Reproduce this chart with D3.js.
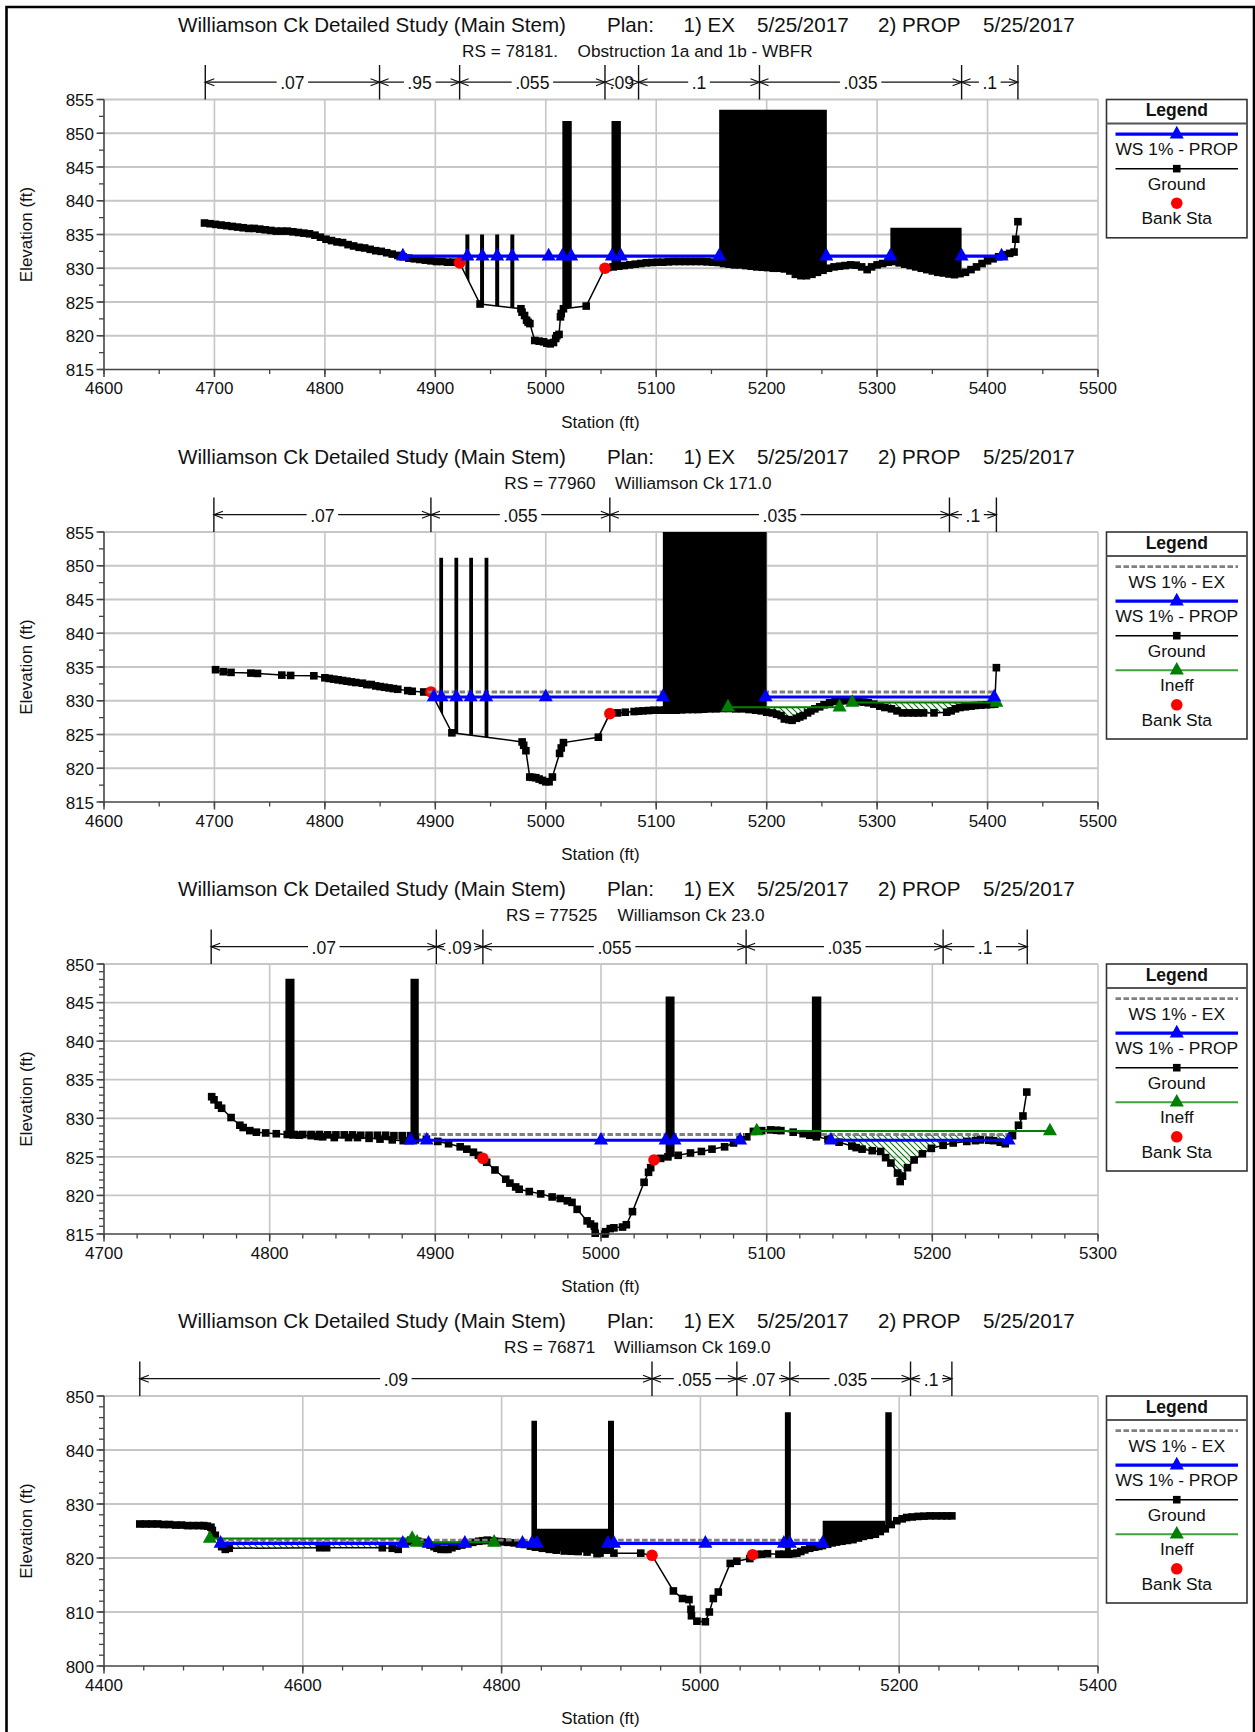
<!DOCTYPE html>
<html><head><meta charset="utf-8">
<script src="https://cdn.jsdelivr.net/npm/d3@7/dist/d3.min.js"></script>
<style>html,body{margin:0;padding:0;background:#fff}svg{display:block}text{font-family:"Liberation Sans",Arial,sans-serif;fill:#111}</style>
</head><body><div id="chart"></div>
<script>
// ---------- shared text ----------
const titleParts = [["Williamson Ck Detailed Study (Main Stem)",178],["Plan:",607],["1) EX",683.5],["5/25/2017",757],["2) PROP",878],["5/25/2017",983]];
const rsLabels = [["RS = 78181.",462,"Obstruction 1a and 1b - WBFR",577.6],["RS = 77960",504.3,"Williamson Ck 171.0",615],["RS = 77525",506,"Williamson Ck 23.0",617.5],["RS = 76871",504,"Williamson Ck 169.0",614]];

// ---------- axes ----------
const xDomains = [[4600,5500],[4600,5500],[4700,5300],[4400,5400]];
const yDomains = [[815,855],[815,855],[815,850],[800,850]];
const xMajor = [100,100,100,200];
const xMinor = [50,50,20,40];
const yMajor = [5,5,5,10];
const yMinor = [2.5,2.5,1,2];

// ---------- Manning n ----------
const nBreaks = [
 [4691.7,4849.5,4922,5053.6,5084,5193.5,5376.5,5427.5],
 [4699.5,4896,5058,5365.5,5408],
 [4764.7,4900.6,4928.7,5087.6,5206.5,5257.3],
 [4436,4951.3,5036.7,5090,5211.4,5253]];
const nValues = [
 [".07",".95",".055",".09",".1",".035",".1"],
 [".07",".055",".035",".1"],
 [".07",".09",".055",".035",".1"],
 [".09",".055",".07",".035",".1"]];

// ---------- ground [station, elevation] ----------
const ground1 = [[4691,836.7],[4696,836.6],[4701,836.5],[4706,836.4],[4711,836.3],[4716,836.2],[4721,836.1],[4726,836],[4731,835.9],[4736,835.9],[4741,835.8],[4746,835.7],[4751,835.6],[4756,835.5],[4761,835.5],[4766,835.5],[4771,835.4],[4776,835.3],[4781,835.2],[4786,835.1],[4791,834.9],[4796,834.6],[4801,834.3],[4806,834.1],[4811,833.9],[4816,833.8],[4821,833.5],[4826,833.3],[4831,833.1],[4836,833],[4841,832.8],[4846,832.6],[4851,832.5],[4856,832.3],[4861,832.1],[4866,831.9],[4871,831.7],[4876,831.5],[4881,831.4],[4886,831.3],[4891,831.2],[4896,831.1],[4901,831],[4906,831],[4911,830.9],[4916,830.9],[4922,830.8],[4940.5,824.7],[4977.5,824],[4978.5,823.5],[4980.8,823],[4982.6,822.3],[4984,822],[4985.6,821.8],[4990,819.3],[4994,819.2],[4998,819.1],[5001,818.9],[5004,818.8],[5007,819],[5009,819.6],[5010,820],[5012,820.2],[5013.3,822.8],[5014,823.3],[5016,824],[5036.6,824.4],[5053.6,830],[5056,830.1],[5061,830.2],[5066,830.3],[5071,830.4],[5076,830.5],[5081,830.6],[5086,830.7],[5091,830.8],[5096,830.85],[5101,830.9],[5106,830.9],[5111,830.95],[5116,831],[5121,831],[5126,831],[5131,831],[5136,831],[5141,831],[5146,830.95],[5151,830.9],[5156,830.85],[5161,830.7],[5166,830.6],[5171,830.5],[5176,830.5],[5181,830.4],[5186,830.3],[5191,830.2],[5196,830.15],[5201,830.1],[5206,830],[5211,830],[5216,829.9],[5221,829.6],[5226,829.1],[5231,828.9],[5236,828.9],[5241,829.1],[5246,829.4],[5251,829.7],[5256,830],[5261,830.2],[5266,830.3],[5271,830.4],[5276,830.5],[5281,830.45],[5286,830.2],[5291,829.8],[5295,830.2],[5300,830.5],[5305,830.7],[5310,830.9],[5315,831],[5320,830.8],[5325,830.6],[5330,830.4],[5335,830.2],[5340,830],[5345,829.8],[5350,829.6],[5355,829.4],[5360,829.3],[5365,829.15],[5370,829.05],[5375,829.2],[5380,829.4],[5385,829.8],[5390,830.2],[5395,830.7],[5400,831.1],[5405,831.4],[5410,831.7],[5415,832],[5420,832.2],[5424,832.4],[5425.5,834.3],[5427.5,836.9]];
const ground2 = [[4701,834.6],[4708,834.3],[4715,834.2],[4733,834.1],[4739,834.05],[4761,833.8],[4769,833.75],[4790,833.7],[4800,833.4],[4804,833.3],[4808,833.2],[4812,833.1],[4816,833],[4820,832.9],[4824,832.8],[4828,832.7],[4834,832.6],[4838,832.4],[4842,832.4],[4846,832.2],[4850,832.1],[4854,832],[4858,831.9],[4862,831.8],[4866,831.7],[4875,831.5],[4879,831.4],[4889.5,831.3],[4896,831.3],[4915,825.25],[4978.6,823.9],[4980,823.4],[4982,822.6],[4985.5,818.7],[4988,818.65],[4991,818.6],[4994,818.4],[4997,818.2],[5000,818],[5003,818],[5006,818.7],[5012.5,822.2],[5014,823],[5016,823.8],[5047.6,824.6],[5058,828.1],[5065,828.2],[5072,828.3],[5080,828.4],[5084,828.45],[5088,828.5],[5093,828.55],[5098,828.6],[5103,828.6],[5108,828.6],[5113,828.6],[5118,828.6],[5123,828.65],[5128,828.7],[5133,828.7],[5138,828.7],[5143,828.75],[5148,828.8],[5154,828.8],[5160,828.85],[5166,828.85],[5172,828.8],[5178,828.8],[5184,828.7],[5190,828.6],[5195,828.5],[5200,828.3],[5205,828.2],[5209,828],[5213,827.8],[5216,827.3],[5220,827.2],[5223,827.1],[5227,827.4],[5230,827.6],[5233,827.8],[5237,828.2],[5240,828.5],[5243.6,828.8],[5248,829.1],[5252,829.4],[5257,829.7],[5262,829.9],[5267,830],[5272,830],[5278,829.9],[5283,829.85],[5288,829.8],[5292,829.7],[5297,829.5],[5302.4,829.2],[5307,829],[5313,828.8],[5318,828.5],[5323,828.2],[5328,828.2],[5333,828.2],[5337,828.2],[5342,828.2],[5351.5,828.2],[5363,828.3],[5367,828.5],[5371,828.8],[5375,829],[5380,829.1],[5385,829.2],[5389,829.3],[5394,829.35],[5399,829.4],[5403,829.45],[5406.5,829.5],[5408,834.9]];
const ground3 = [[4765,832.8],[4766.4,832.4],[4769,831.7],[4771,831.3],[4776.7,830.1],[4782,829.1],[4784,828.8],[4788,828.4],[4792,828.2],[4797.6,828.1],[4804,828],[4810.6,827.9],[4814,827.85],[4818,827.8],[4825,827.75],[4829,827.65],[4832,827.6],[4839,827.5],[4847.6,827.5],[4853,827.5],[4860,827.4],[4866.6,827.3],[4874,827.2],[4880.6,827.1],[4885,827.1],[4888,827.2],[4894.6,827.3],[4901.5,827],[4908,826.7],[4915,826.3],[4919,826],[4923,825.6],[4926,825.2],[4928.7,824.8],[4931,824.3],[4936,823.3],[4942.5,822.1],[4945,821.6],[4948.5,821.1],[4950.6,820.8],[4956.7,820.5],[4963.6,820.2],[4970.5,819.8],[4975.4,819.6],[4979.7,819.3],[4982.5,819.1],[4985.6,818.2],[4991.6,816.7],[4993.7,816.3],[4996,816],[4996.5,815.1],[5002.4,815],[5002.8,815.3],[5005.6,815.7],[5007.8,815.8],[5013,815.9],[5015.3,816.2],[5019,817.9],[5026,821.7],[5028.7,823],[5030,823.6],[5032,824.6],[5036,824.8],[5040.4,825],[5046.6,825.2],[5054,825.5],[5060.6,825.7],[5067,826],[5074.6,826.3],[5080,826.8],[5084,827.2],[5088,827.6],[5092,828.3],[5097,828.4],[5102.4,828.5],[5106,828.45],[5108.6,828.4],[5116,828.2],[5122,828],[5126,827.8],[5130,827.6],[5137,827.3],[5143.7,826.9],[5151.4,826.4],[5154,826.2],[5157.6,826],[5163.7,825.8],[5168.8,825.7],[5171.8,824.9],[5175,824.2],[5179,822.9],[5180.6,821.8],[5182,822.5],[5185,823.6],[5189,824.6],[5194,825.4],[5199.4,826.1],[5206.5,826.5],[5212.6,826.8],[5220.8,827],[5226,827.1],[5229,827.2],[5234,827.15],[5237,827.1],[5241,826.9],[5244,826.7],[5248.4,827.75],[5252,829.1],[5254.7,830.3],[5257,833.4]];
// upper edge of the left overbank band in the third section
const ground3Upper = [[4815,827.9],[4820,827.9],[4825,827.9],[4830,827.9],[4835,827.85],[4840,827.85],[4845,827.85],[4850,827.85],[4855,827.8],[4860,827.8],[4865,827.8],[4870,827.8],[4875,827.75],[4880,827.75],[4885,827.75]];
const ground4 = [[4436,826.3],[4442,826.3],[4448,826.3],[4454,826.3],[4460,826.2],[4466,826.2],[4472,826.1],[4478,826.1],[4484,826],[4490,826],[4496,826],[4500.4,826],[4504,825.9],[4507.6,825.7],[4509,825.1],[4512,824.2],[4518.4,822.1],[4522,821.6],[4526,821.8],[4617,821.9],[4624,821.9],[4680,821.9],[4690,821.8],[4696,821.6],[4701,822.7],[4705,823],[4708.5,823.3],[4712,823.2],[4715.7,823.1],[4720,822.9],[4724.6,822.7],[4728,822.4],[4732,822.1],[4735,821.8],[4739,821.6],[4743,821.6],[4746,821.6],[4750,821.9],[4755,822.2],[4760,822.4],[4766,822.7],[4771,822.9],[4777,823.1],[4781,823.2],[4785.6,823.3],[4789,823.2],[4793,823.1],[4797,823.05],[4800,823],[4806,822.9],[4812.6,822.8],[4818,822.65],[4823,822.5],[4829,822.2],[4834,822],[4841,821.8],[4848,821.6],[4855,821.45],[4863,821.3],[4870,821.25],[4877,821.2],[4886,821.1],[4896,820.8],[4899,820.9],[4913,820.9],[4940,820.9],[4951.3,820.5],[4972.8,813.9],[4982,812.5],[4988.5,812.3],[4990.5,810.5],[4991,809.3],[4996.5,808.3],[5005,808.2],[5009,810],[5013,812.5],[5018,813.7],[5030,819],[5036.7,819.4],[5049.7,819.9],[5052.5,820.6],[5057,820.65],[5061.5,820.7],[5067.5,820.8],[5079,820.7],[5084,820.7],[5089,820.7],[5093,820.8],[5097,820.9],[5101,821.2],[5105,821.5],[5110,821.8],[5115,822],[5119,822.15],[5122.7,822.3],[5128,822.55],[5132.5,822.8],[5137,822.95],[5142.4,823.1],[5148,823.25],[5153.5,823.4],[5159,823.7],[5164,824],[5170,824.2],[5176,824.4],[5181,824.9],[5186,825.4],[5192,826.2],[5197.6,826.9],[5203,827.25],[5207.5,827.5],[5213,827.6],[5219,827.7],[5225,827.75],[5231,827.8],[5237,827.8],[5243,827.8],[5248,827.8],[5253,827.8]];

// ---------- bank stations ----------
const bank1 = [[4922,830.8],[5053.6,830]];
const bank2 = [[4896,831.3],[5058,828.1]];
const bank3 = [[4928.7,824.8],[5032,824.6]];
const bank4 = [[4951.3,820.5],[5052.5,820.6]];

// ---------- obstructions [from, to, top] reaching down to the ground ----------
const blocks1 = [[4927.2,4930.8,835],[4940.5,4944.1,835],[4954.2,4957.8,835],[4967.9,4971.5,835],[5015,5023.5,851.8],[5059.5,5068,851.8],[5157,5254.5,853.5],[5312,5376.5,836]];
const blocks2 = [[4903.6,4907,851.2],[4917.3,4920.7,851.2],[4930.7,4934.1,851.2],[4944.6,4948,851.2],[5106,5200,855]];
const blocks3 = [[4809.5,4815,848.1],[4885,4890,848.1],[5039,5044.4,845.8],[5127.3,5133,845.8]];
const blocks4 = [[4830,4835.6,845.4],[4907,4913,845.4],[4835.6,4907,825.4],[5085,5091,847],[5186,5192.5,847],[5123,5186,826.9]];

// ---------- water surface PROP: line pieces and markers ----------
const wsProp = [831.8,830.55,827.15,822.7];
const wsPropPieces = [[[4870.6,5412.7]],[[4898.6,5408]],[[4885,5084],[5138.8,5246]],[[4517.3,4700.6],[4726.5,4763],[4821,5123]]];
const wsPropMarks = [
 [4870.6,4929,4942.7,4956,4969.7,5002.6,5015,5023,5059.9,5068,5157,5254,5312,5376.5,5412.7],
 [4898.6,4905.6,4919,4932,4946,5000,5106,5199,5406],
 [4885,4894.8,5000,5039,5044.4,5084,5138.8,5246],
 [4517.3,4700.6,4726.5,4763,4821,4830.5,4835.6,4907,4913,5005,5084,5090,5123]];
// ---------- water surface EX ----------
const wsEx = [null,831.3,827.9,823.3];
const wsExPieces = [[],[[4893,5406]],[[4888,5087],[5133,5246]],[[4517,4700],[4708,5123]]];
// ---------- ineffective flow [from, to, elevation] ----------
const ineff2 = [[5165,5266,829.05],[5277.5,5408,829.75]];
const ineff3 = [[5094,5271,828.35]];
const ineff4 = [[4506.5,4710,823.6],[4715,4792.5,822.9]];
// ---------- hatched regions [from, to, top elevation] ----------
const hatch2 = [[5165,5266,829.05],[5277.5,5408,829.75]];
const hatch3 = [[5133,5246,827.9]];
const hatch4 = [[4520,4677,823.2]];

const grounds = [ground1,ground2,ground3,ground4];
const extraGround = [[],[],ground3Upper,[]];
const banks = [bank1,bank2,bank3,bank4];
const blocks = [blocks1,blocks2,blocks3,blocks4];
const ineffs = [[],ineff2,ineff3,ineff4];
const hatches = [[],hatch2,hatch3,hatch4];
const legendRows = [
 ["WS 1% - PROP","Ground","Bank Sta"],
 ["WS 1% - EX","WS 1% - PROP","Ground","Ineff","Bank Sta"],
 ["WS 1% - EX","WS 1% - PROP","Ground","Ineff","Bank Sta"],
 ["WS 1% - EX","WS 1% - PROP","Ground","Ineff","Bank Sta"]];

// ---------- layout ----------
const W=1255,H=1732, plotL=104, plotR=1098, plotH=270;
const tops=[99.5,532,964,1396];
const GREEN="#008000",BLUE="#0000ff",RED="#ff0000",GRID="#c6c6c6",AXIS="#444",INK="#111",DASH="#808080";

const svg=d3.select("#chart").append("svg").attr("width",W).attr("height",H);
const defs=svg.append("defs");
const pat=defs.append("pattern").attr("id","hatch").attr("patternUnits","userSpaceOnUse").attr("width",6).attr("height",6);
pat.append("path").attr("d","M-1,-1L7,7M-1,5L1,7M5,-1L7,1").attr("stroke",GREEN).attr("stroke-width",1.1);

svg.append("path").attr("d",`M6.5,${H}V7H1254V${H}`).attr("fill","none").attr("stroke","#000").attr("stroke-width",2.6);

function triangle(g,px,py,col){ g.append("path").attr("d",`M${px},${py-8.3}L${px+7},${py+4.3}L${px-7},${py+4.3}Z`).attr("fill",col); }
function square(g,px,py){ g.append("rect").attr("x",px-3.8).attr("y",py-3.8).attr("width",7.6).attr("height",7.6).attr("fill","#000"); }

tops.forEach((top,i)=>{
  const dy=top-99.5;
  const head=svg.append("g").attr("transform",`translate(0,${dy})`);
  titleParts.forEach(([t,x])=>head.append("text").attr("x",x).attr("y",31.5).attr("font-size",20.6).text(t));
  const rs=rsLabels[i];
  head.append("text").attr("x",rs[1]).attr("y",56.7).attr("font-size",17.2).text(rs[0]);
  head.append("text").attr("x",rs[3]).attr("y",56.7).attr("font-size",17.2).text(rs[2]);

  const x=d3.scaleLinear().domain(xDomains[i]).range([plotL,plotR]);
  const y=d3.scaleLinear().domain(yDomains[i]).range([top+plotH,top]);

  // grid
  const g=svg.append("g");
  const xTicks=d3.range(xDomains[i][0],xDomains[i][1]+1,xMajor[i]);
  const yTicks=d3.range(yDomains[i][0],yDomains[i][1]+1,yMajor[i]);
  g.append("g").selectAll("line").data(xTicks.slice(1)).join("line")
    .attr("x1",x).attr("x2",x).attr("y1",top).attr("y2",top+plotH).attr("stroke",GRID).attr("stroke-width",1.6);
  g.append("g").selectAll("line").data(yTicks.slice(1)).join("line")
    .attr("x1",plotL).attr("x2",plotR).attr("y1",y).attr("y2",y).attr("stroke",GRID).attr("stroke-width",1.8);

  // hatching under ineffective areas
  hatches[i].forEach((h,k)=>{
    const id=`h${i}_${k}`;
    defs.append("clipPath").attr("id",id).append("rect").attr("x",x(h[0])).attr("width",x(h[1])-x(h[0])).attr("y",top).attr("height",plotH);
    const area=d3.area().x(d=>x(d[0])).y0(y(h[2])).y1(d=>Math.max(y(h[2]),y(d[1])));
    g.append("path").attr("d",area(grounds[i])).attr("fill","url(#hatch)").attr("clip-path",`url(#${id})`);
  });

  // ground
  const line=d3.line().x(d=>x(d[0])).y(d=>y(d[1]));
  g.append("path").attr("d",line(grounds[i])).attr("fill","none").attr("stroke","#000").attr("stroke-width",1.5);
  grounds[i].forEach(d=>square(g,x(d[0]),y(d[1])));
  extraGround[i].forEach(d=>square(g,x(d[0]),y(d[1])));
  banks[i].forEach(d=>g.append("circle").attr("cx",x(d[0])).attr("cy",y(d[1])).attr("r",5.8).attr("fill",RED));

  // water surfaces
  wsExPieces[i].forEach(s=>g.append("line").attr("x1",x(s[0])).attr("x2",x(s[1])).attr("y1",y(wsEx[i])).attr("y2",y(wsEx[i])).attr("stroke",DASH).attr("stroke-width",2.8).attr("stroke-dasharray","5.5 2.5"));
  wsPropPieces[i].forEach(s=>g.append("line").attr("x1",x(s[0])).attr("x2",x(s[1])).attr("y1",y(wsProp[i])).attr("y2",y(wsProp[i])).attr("stroke",BLUE).attr("stroke-width",3.1));

  // obstructions, from the top down to the ground profile
  blocks[i].forEach((b,k)=>{
    const id=`b${i}_${k}`;
    defs.append("clipPath").attr("id",id).append("rect").attr("x",x(b[0])).attr("width",x(b[1])-x(b[0])).attr("y",top-1).attr("height",plotH+2);
    const area=d3.area().x(d=>x(d[0])).y0(y(b[2])).y1(d=>y(d[1]));
    g.append("path").attr("d",area(grounds[i])).attr("fill","#000").attr("clip-path",`url(#${id})`);
  });

  // ineffective flow
  ineffs[i].forEach(s=>g.append("line").attr("x1",x(s[0])).attr("x2",x(s[1])).attr("y1",y(s[2])).attr("y2",y(s[2])).attr("stroke",GREEN).attr("stroke-width",2));
  ineffs[i].forEach(s=>{triangle(g,x(s[0]),y(s[2]),GREEN);triangle(g,x(s[1]),y(s[2]),GREEN);});
  wsPropMarks[i].forEach(m=>triangle(g,x(m),y(wsProp[i]),BLUE));

  // axes
  const ax=svg.append("g");
  const xMin=d3.range(xDomains[i][0],xDomains[i][1]+1,xMinor[i]);
  const yMin=d3.range(yDomains[i][0],yDomains[i][1]+1,yMinor[i]);
  ax.append("g").selectAll("line").data(xMin).join("line").attr("x1",x).attr("x2",x).attr("y1",top+plotH).attr("y2",top+plotH+4.5).attr("stroke",AXIS).attr("stroke-width",1.3);
  ax.append("g").selectAll("line").data(xTicks).join("line").attr("x1",x).attr("x2",x).attr("y1",top+plotH).attr("y2",top+plotH+7.5).attr("stroke",AXIS).attr("stroke-width",1.5);
  ax.append("g").selectAll("line").data(yMin).join("line").attr("x1",plotL-5).attr("x2",plotL).attr("y1",y).attr("y2",y).attr("stroke",AXIS).attr("stroke-width",1.3);
  ax.append("g").selectAll("line").data(yTicks).join("line").attr("x1",plotL-7.5).attr("x2",plotL).attr("y1",y).attr("y2",y).attr("stroke",AXIS).attr("stroke-width",1.5);
  ax.append("line").attr("x1",plotL).attr("x2",plotL).attr("y1",top).attr("y2",top+plotH).attr("stroke",AXIS).attr("stroke-width",1.6);
  ax.append("line").attr("x1",plotL).attr("x2",plotR).attr("y1",top+plotH).attr("y2",top+plotH).attr("stroke",AXIS).attr("stroke-width",1.6);
  ax.append("g").selectAll("text").data(xTicks).join("text").attr("x",x).attr("y",top+plotH+24.7).attr("text-anchor","middle").attr("font-size",17).text(d=>d);
  ax.append("g").selectAll("text").data(yTicks).join("text").attr("x",plotL-10).attr("y",d=>y(d)+6.7).attr("text-anchor","end").attr("font-size",17).text(d=>d);
  ax.append("text").attr("x",600.5).attr("y",top+plotH+58).attr("text-anchor","middle").attr("font-size",17).text("Station (ft)");
  ax.append("text").attr("transform",`translate(32,${top+135}) rotate(-90)`).attr("text-anchor","middle").attr("font-size",17).text("Elevation (ft)");

  // Manning n bars
  const nb=svg.append("g"), ny=top-17.3, br=nBreaks[i];
  br.forEach(b=>nb.append("line").attr("x1",x(b)).attr("x2",x(b)).attr("y1",top-34.5).attr("y2",top).attr("stroke",INK).attr("stroke-width",1.4));
  nValues[i].forEach((v,k)=>{
    const a=x(br[k]),b=x(br[k+1]),m=(a+b)/2;
    nb.append("line").attr("x1",a).attr("x2",b).attr("y1",ny).attr("y2",ny).attr("stroke",INK).attr("stroke-width",1.2);
    const t=nb.append("text").attr("x",m).attr("y",ny+6.8).attr("text-anchor","middle").attr("font-size",17.6).text(v);
    const w=t.node().getBBox();
    nb.insert("rect","text:last-of-type").attr("x",w.x-3.5).attr("y",ny-7).attr("width",w.width+7).attr("height",14).attr("fill","#fff");
    nb.append("path").attr("d",`M${a+9},${ny-3.5}L${a},${ny}L${a+9},${ny+3.5}M${b-9},${ny-3.5}L${b},${ny}L${b-9},${ny+3.5}`).attr("fill","none").attr("stroke",INK).attr("stroke-width",1.2);
  });

  // legend
  const rows=legendRows[i], lx=1106.5, lw=140.5, cx=lx+lw/2, lg=svg.append("g");
  const lh=rows.length===3?138.3:207;
  lg.append("rect").attr("x",lx).attr("y",top).attr("width",lw).attr("height",lh).attr("fill","#fff").attr("stroke","#333").attr("stroke-width",1.6);
  lg.append("line").attr("x1",lx).attr("x2",lx+lw).attr("y1",top+24).attr("y2",top+24).attr("stroke","#555").attr("stroke-width",1.8);
  lg.append("text").attr("x",cx).attr("y",top+16.7).attr("text-anchor","middle").attr("font-size",17.5).attr("font-weight","bold").text("Legend");
  rows.forEach((r,k)=>{
    const ly=top+34.6+k*34.55, l1=lx+9, l2=lx+lw-9;
    const ln=lg.append("line").attr("x1",l1).attr("x2",l2).attr("y1",ly).attr("y2",ly);
    if(r==="WS 1% - EX") ln.attr("stroke",DASH).attr("stroke-width",2.8).attr("stroke-dasharray","5.5 2.5");
    else if(r==="WS 1% - PROP"){ln.attr("stroke",BLUE).attr("stroke-width",3.1);triangle(lg,cx,ly,BLUE);}
    else if(r==="Ground"){ln.attr("stroke","#000").attr("stroke-width",1.5);square(lg,cx,ly);}
    else if(r==="Ineff"){ln.attr("stroke",GREEN).attr("stroke-width",1.8).attr("stroke-opacity",.75);triangle(lg,cx,ly,GREEN);}
    else {ln.remove();lg.append("circle").attr("cx",cx).attr("cy",ly).attr("r",5.8).attr("fill",RED);}
    lg.append("text").attr("x",cx).attr("y",ly+21).attr("text-anchor","middle").attr("font-size",17.4).text(r);
  });
});
</script></body></html>
